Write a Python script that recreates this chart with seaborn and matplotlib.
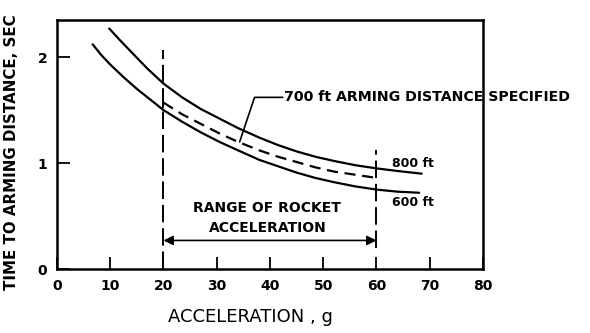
import matplotlib
matplotlib.use("Agg")
import matplotlib.pyplot as plt
import seaborn as sns
import pandas as pd

# Time to reach the arming distance versus rocket acceleration
accel_600 = [6.7, 8.3, 10, 12.5, 15, 17.5, 20, 23.5, 27, 30.5, 34, 38,
             41.5, 45, 48.5, 52, 56, 60, 64, 68]
time_600 = [2.12, 2.02, 1.93, 1.81, 1.70, 1.60, 1.50, 1.39, 1.29, 1.20, 1.12, 1.03,
            0.97, 0.91, 0.86, 0.82, 0.78, 0.75, 0.73, 0.72]

accel_800 = [9.8, 12, 14.3, 17, 20, 23.5, 27, 30.5, 34, 38,
             41.5, 45, 48.5, 52, 56, 60, 64, 68.5]
time_800 = [2.27, 2.15, 2.03, 1.89, 1.75, 1.62, 1.51, 1.42, 1.33, 1.24,
            1.17, 1.11, 1.06, 1.02, 0.98, 0.95, 0.925, 0.90]

accel_700 = [20, 23.5, 27, 30.5, 34, 38, 41.5, 45, 48.5, 52, 56, 60]
time_700 = [1.57, 1.46, 1.37, 1.28, 1.20, 1.12, 1.06, 1.01, 0.96, 0.92, 0.89, 0.86]

accel_range = [20, 60]
x_ticks = [0, 10, 20, 30, 40, 50, 60, 70, 80]
y_ticks = [0, 1, 2]

sns.set_style("ticks")
plt.rcParams["font.family"] = ["DejaVu Sans"]
for key in ["text.color", "axes.labelcolor", "xtick.color", "ytick.color",
            "axes.edgecolor"]:
    plt.rcParams[key] = "black"

fig = plt.figure(figsize=(5.9, 3.33), dpi=100)
ax = fig.add_axes([0.0966, 0.192, 0.722, 0.748])

solid = pd.DataFrame({
    "accel": accel_600 + accel_800,
    "time": time_600 + time_800,
    "dist": ["600"] * len(accel_600) + ["800"] * len(accel_800),
})
sns.lineplot(data=solid, x="accel", y="time", units="dist", estimator=None,
             color="black", lw=1.6, sort=False, ax=ax)

dashed = pd.DataFrame({"accel": accel_700, "time": time_700})
sns.lineplot(data=dashed, x="accel", y="time", color="black", lw=1.6,
             ax=ax).lines[-1].set_dashes([5, 3])

# short end mark on the 700 ft curve
ax.vlines(accel_700[0], time_700[0] - 0.05, time_700[0], color="black", lw=1.4)

# vertical limits of the rocket acceleration range
ax.vlines(accel_range[0], 0, 2.07, color="black", lw=1.4, linestyles=(0, (9, 3)))
ax.vlines(accel_range[1], 0.2, 1.12, color="black", lw=1.4, linestyles=(0, (9, 3)))

ax.annotate("", xy=(accel_range[1], 0.27), xytext=(accel_range[0], 0.27),
            arrowprops=dict(arrowstyle="<|-|>", color="black", lw=1.2,
                            mutation_scale=14, shrinkA=0, shrinkB=0))
ax.text(39.5, 0.48, "RANGE OF ROCKET\nACCELERATION", ha="center", va="center",
        fontsize=10, fontweight="bold", linespacing=1.5)

# leader to the 700 ft curve
ax.plot([42.4, 37.1, 34.3], [1.62, 1.62, 1.20], color="black", lw=1.2)
ax.text(42.6, 1.62, "700 ft ARMING DISTANCE SPECIFIED", ha="left", va="center",
        fontsize=10.2, fontweight="bold")

ax.text(63.0, 1.00, "800 ft", ha="left", va="center", fontsize=9, fontweight="bold")
ax.text(63.0, 0.63, "600 ft", ha="left", va="center", fontsize=9, fontweight="bold")

ax.set_xlim(0, 80)
ax.set_ylim(0, 2.35)
ax.set_xticks(x_ticks)
ax.set_yticks(y_ticks)
ax.tick_params(direction="in", length=9, width=1.3, labelsize=10, pad=7)
for lab in ax.get_xticklabels() + ax.get_yticklabels():
    lab.set_fontweight("bold")
for side in ["left", "bottom", "top", "right"]:
    ax.spines[side].set_visible(True)
    ax.spines[side].set_linewidth(1.8)

ax.set_xlabel("ACCELERATION , g", fontsize=13)
ax.xaxis.set_label_coords(0.453, -0.155)
ax.set_ylabel("TIME TO ARMING DISTANCE, SEC", fontsize=10.8, fontweight="bold")
ax.yaxis.set_label_coords(-0.09, 0.47)

fig.savefig("out.png", dpi=100)
